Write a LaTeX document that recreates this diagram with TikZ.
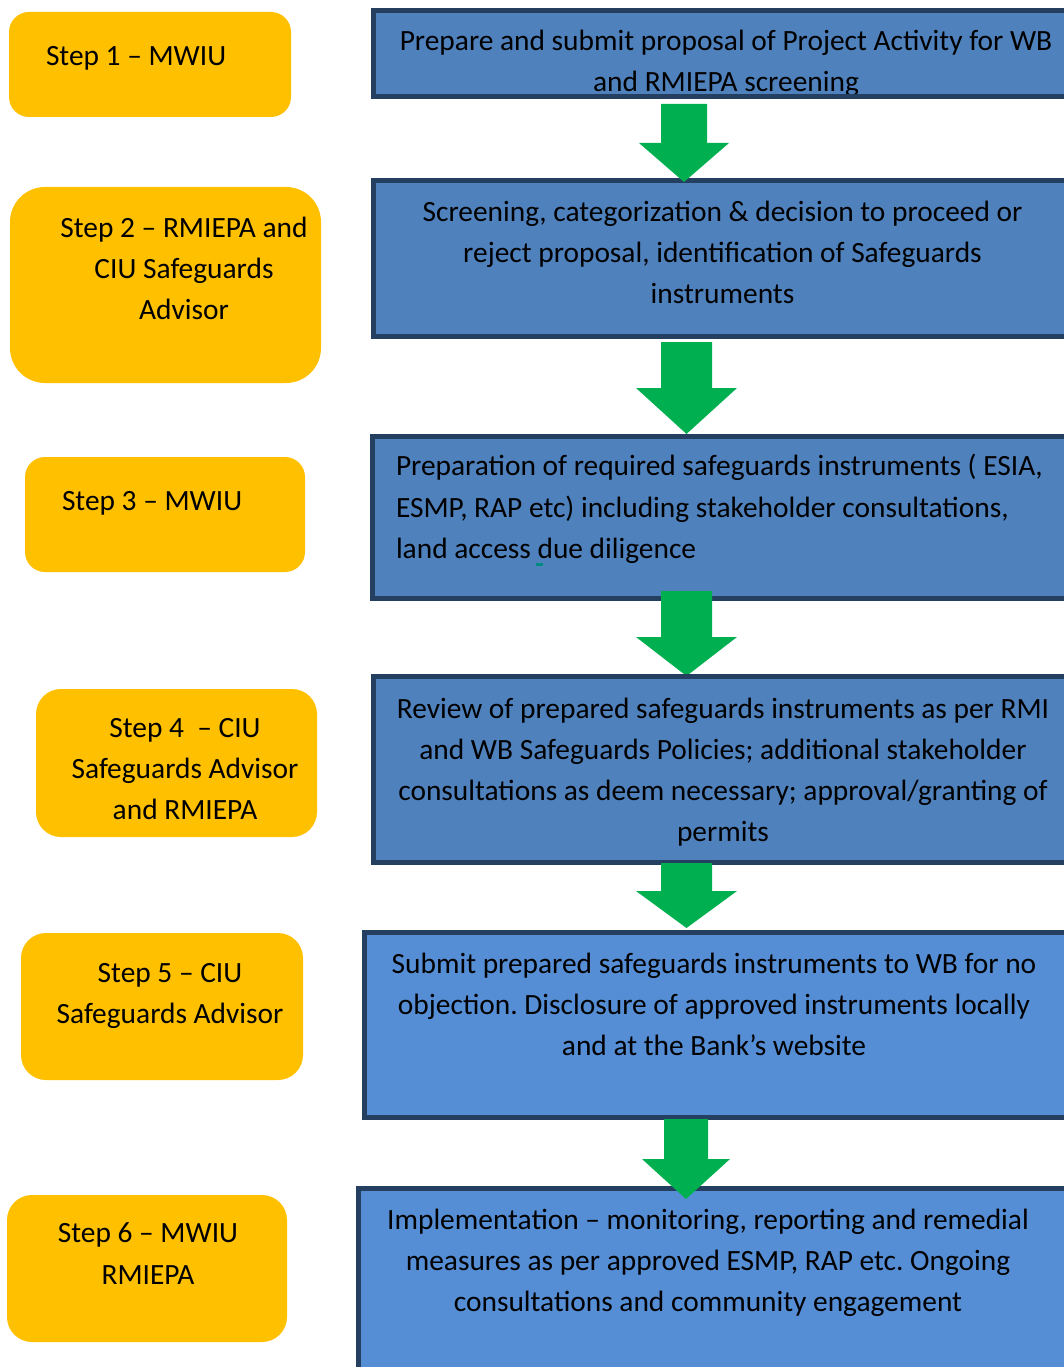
\documentclass[tikz,border=0pt]{standalone}
\usepackage{fontspec}
\setmainfont{Carlito}
\frenchspacing
\usetikzlibrary{calc}
\definecolor{orangebox}{HTML}{FFC000}
\definecolor{greenarrow}{HTML}{00B050}
\definecolor{blueA}{HTML}{4F81BD}
\definecolor{blueB}{HTML}{558ED5}
\definecolor{bordercol}{HTML}{243F60}
\definecolor{tealmark}{HTML}{008A80}
\newcommand{\blockarrow}[5]{%
  \fill[arrowfill] let \p1=(#1), \p2=(#2) in
    (\x1-#3pt,\y1) -- (\x1+#3pt,\y1) -- (\x1+#3pt,\y2+#5pt) -- (\x1+#4pt,\y2+#5pt)
    -- (\x2,\y2) -- (\x1-#4pt,\y2+#5pt) -- (\x1-#3pt,\y2+#5pt) -- cycle;}
\begin{document}
\begin{tikzpicture}[x=1pt,y=-1pt,
  actor/.style={fill=orangebox, inner sep=0, outer sep=0, anchor=north west},
  bluebox/.style={inner sep=0, outer sep=0, anchor=north west},
  boxborder/.style={draw=bordercol, line width=5pt},
  arrowfill/.style={fill=greenarrow},
  txt/.style={inner sep=0, outer sep=0, anchor=base, text=black, font=\fontsize{29.4}{35}\selectfont\frenchspacing},
  txtl/.style={txt, anchor=base west}]
\useasboundingbox (0,0) rectangle (1063,1367);

% ---------- orange actor boxes ----------
\node[actor, rounded corners=20pt, minimum width=282pt, minimum height=105pt] (o1) at (9,12) {};
\node[actor, rounded corners=35pt, minimum width=311pt, minimum height=196pt] (o2) at (10,187) {};
\node[actor, rounded corners=20pt, minimum width=280pt, minimum height=115pt] (o3) at (25,457) {};
\node[actor, rounded corners=25pt, minimum width=281pt, minimum height=148pt] (o4) at (36,689) {};
\node[actor, rounded corners=25pt, minimum width=282pt, minimum height=147pt] (o5) at (21,933) {};
\node[actor, rounded corners=25pt, minimum width=280pt, minimum height=147pt] (o6) at (7,1195) {};

\node[txtl] (s1a) at (46,66) {Step 1 – MWIU};
\node[txt] (s2a) at (184,237) {Step 2 – RMIEPA and};
\node[txt] (s2b) at (184,278) {CIU Safeguards};
\node[txt] (s2c) at (184,319) {Advisor};
\node[txtl] (s3a) at (62,510) {Step 3 – MWIU};
\node[txt] (s4a) at (185,737) {Step 4~ – CIU};
\node[txt] (s4b) at (185,778) {Safeguards Advisor};
\node[txt] (s4c) at (185,819) {and RMIEPA};
\node[txt] (s5a) at (170,982) {Step 5 – CIU};
\node[txt] (s5b) at (170,1023) {Safeguards Advisor};
\node[txt] (s6a) at (148,1242) {Step 6 – MWIU};
\node[txt] (s6b) at (148,1284) {RMIEPA};

% ---------- box 1 ----------
\node[bluebox, fill=blueA, minimum width=720pt, minimum height=86pt] (b1) at (373.5,10.5) {};
\node[txt] (p1a) at (726,51) {Prepare and submit proposal of Project Activity for WB};
\node[txt] (p1b) at (726,92) {and RMIEPA screening};
\draw[boxborder] (b1.north west) rectangle (b1.south east);

% ---------- box 2 ----------
\node[bluebox, fill=blueA, minimum width=720pt, minimum height=156pt] (b2) at (373.5,180.5) {};
\node[txt] (p2a) at (722.5,221) {Screening, categorization \& decision to proceed or};
\node[txt] (p2b) at (722.5,262) {reject proposal, identification of Safeguards};
\node[txt] (p2c) at (722.5,303) {instruments};
\draw[boxborder] (b2.north west) rectangle (b2.south east);

% ---------- box 3 ----------
\node[bluebox, fill=blueA, minimum width=720pt, minimum height=162pt] (b3) at (372.5,436.5) {};
\node[txtl] (p3a) at (396,475) {Preparation of required safeguards instruments ( ESIA,};
\node[txtl] (p3b) at (396,517) {ESMP, RAP etc) including stakeholder consultations,};
\node[txtl] (p3c) at (396,558) {land access due diligence};
\fill[tealmark] (536,563) rectangle (543,565.5);
\draw[boxborder] (b3.north west) rectangle (b3.south east);

% ---------- arrows 1-3 ----------
\coordinate (a1s) at (684,104);    \coordinate (a1t) at (684,182);
\coordinate (a2s) at (686.5,342);  \coordinate (a2t) at (686.5,434);
\coordinate (a3s) at (686.5,591);  \coordinate (a3t) at (686.5,676);
\blockarrow{a1s}{a1t}{23}{45}{39}
\blockarrow{a2s}{a2t}{25.5}{50.5}{46}
\blockarrow{a3s}{a3t}{25.5}{50.5}{39}

% ---------- box 4 ----------
\node[bluebox, fill=blueA, minimum width=720pt, minimum height=186pt] (b4) at (373.5,676.5) {};
\node[txt] (p4a) at (723,718) {Review of prepared safeguards instruments as per RMI};
\node[txt] (p4b) at (723,759) {and WB Safeguards Policies; additional stakeholder};
\node[txt] (p4c) at (723,800) {consultations as deem necessary; approval/granting of};
\node[txt] (p4d) at (723,841) {permits};
\draw[boxborder] (b4.north west) rectangle (b4.south east);

% ---------- box 5 ----------
\node[bluebox, fill=blueB, minimum width=720pt, minimum height=185pt] (b5) at (364.5,932.5) {};
\node[txt] (p5a) at (714,973) {Submit prepared safeguards instruments to WB for no};
\node[txt] (p5b) at (714,1014) {objection. Disclosure of approved instruments locally};
\node[txt] (p5c) at (714,1055) {and at the Bank’s website};
\draw[boxborder] (b5.north west) rectangle (b5.south east);

\coordinate (a4s) at (686.5,863);  \coordinate (a4t) at (686.5,928);
\blockarrow{a4s}{a4t}{25.5}{50.5}{37}

% ---------- box 6 ----------
\node[bluebox, fill=blueB, minimum width=720pt, minimum height=200pt] (b6) at (358.5,1188.5) {};
\node[txt] (p6a) at (708,1229) {Implementation – monitoring, reporting and remedial};
\node[txt] (p6b) at (708,1270) {measures as per approved ESMP, RAP etc. Ongoing};
\node[txt] (p6c) at (708,1311) {consultations and community engagement};
\draw[boxborder] (b6.north west) rectangle (b6.south east);

\coordinate (a5s) at (686,1119);   \coordinate (a5t) at (686,1199);
\blockarrow{a5s}{a5t}{22}{44}{40}
\end{tikzpicture}
\end{document}
